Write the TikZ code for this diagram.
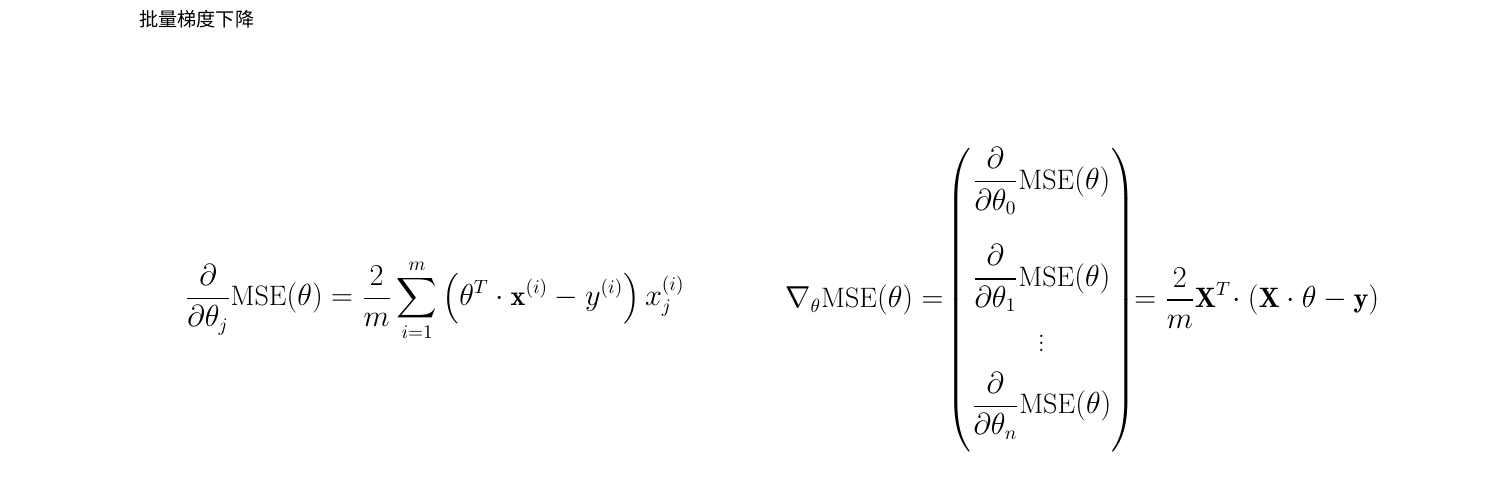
\documentclass[tikz,border=0pt]{standalone}
\usepackage{amsmath}
\usepackage{amssymb}
\usepackage{fontspec}
\newfontfamily\cjk{Noto Sans CJK SC}
\usetikzlibrary{positioning}

\tikzset{
    heading/.style={anchor=west, inner sep=0pt, font=\cjk\fontsize{10.9}{12}\selectfont},
    formula/.style={anchor=west, inner sep=0pt, font=\fontsize{16}{19}\selectfont}
}

\begin{document}
\begin{tikzpicture}
        \useasboundingbox (0,0) rectangle (30.22,-9.94);

        % Title
        \node[heading] (title) at (2.78,-0.38) {批量梯度下降};

        % Left side formula: partial derivative
        \node[formula] (partialEq) at (3.7,-6.0) {$\displaystyle
            \frac{\partial}{\partial\theta_j}\mathrm{MSE}(\theta)
            = \frac{2}{m}\sum_{i=1}^{m}\left(\theta^T\cdot\mathbf{x}^{(i)} - y^{(i)}\right)x_j^{(i)}$};

        % Right side formula: gradient vector
        \node[formula] (gradEq) at (15.7,-6.0) {$\displaystyle
            \nabla_\theta\mathrm{MSE}(\theta) =
            \!\begin{pmatrix}
                \rule{0pt}{12pt}\dfrac{\partial}{\partial\theta_0}\mathrm{MSE}(\theta) \\[26pt]
                \dfrac{\partial}{\partial\theta_1}\mathrm{MSE}(\theta) \\[16pt]
                \vdots \\[6pt]
                \dfrac{\partial}{\partial\theta_n}\mathrm{MSE}(\theta)\rule[-22pt]{0pt}{0pt}
            \end{pmatrix}
            \!\!= \frac{2}{m}\mathbf{X}^T\!\cdot(\mathbf{X}\cdot\theta - \mathbf{y})$};

    \end{tikzpicture}
\end{document}
